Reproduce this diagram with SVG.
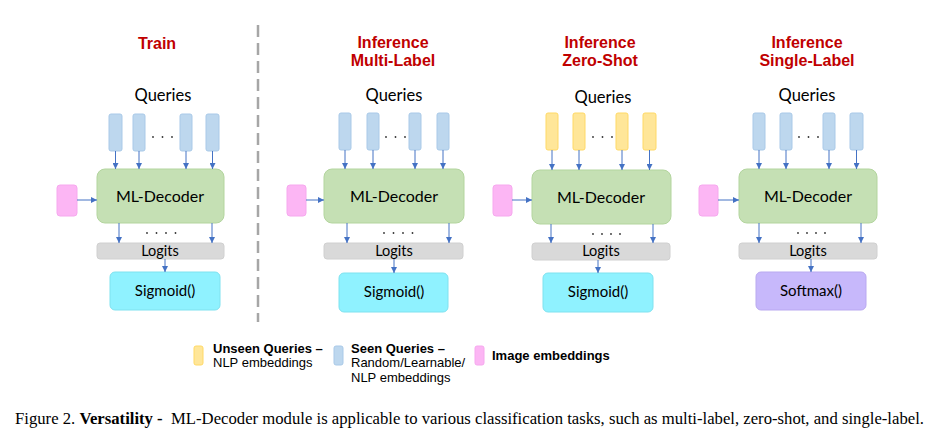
<svg xmlns="http://www.w3.org/2000/svg" width="945" height="441" viewBox="0 0 945 441">
<defs>
<marker id="ah" viewBox="0 0 6 6" refX="6" refY="3" markerWidth="6" markerHeight="6" markerUnits="userSpaceOnUse" orient="auto">
<path d="M0,0 L6,3 L0,6 z" fill="#4472c4"/>
</marker>
</defs>
<style>
.title{font-family:"Liberation Sans",Arial,sans-serif;font-weight:bold;font-size:16px;fill:#c00000;text-anchor:middle}
.q{font-family:Lato,"Open Sans",sans-serif;font-size:16.5px;fill:#000;text-anchor:middle}
.lbl{font-family:Lato,"Open Sans",sans-serif;font-size:16px;fill:#000;text-anchor:middle}
.sm{font-family:Lato,"Open Sans",sans-serif;font-size:14.5px;fill:#000;text-anchor:middle}
.out{font-family:Lato,"Open Sans",sans-serif;font-size:15px;fill:#000;text-anchor:middle}
.blue{fill:#bdd7ee;stroke:#a9c9e8;stroke-width:1}
.yel{fill:#ffe699;stroke:#ffd966;stroke-width:1}
.pink{fill:#fcb6f4;stroke:#f6a8ee;stroke-width:1}
.dec{fill:#c5e0b4;stroke:#b3d59e;stroke-width:1}
.log{fill:#d9d9d9;stroke:#d0d0d0;stroke-width:1}
.sig{fill:#8ff2ff;stroke:#7fe2ef;stroke-width:1}
.soft{fill:#c7b8fb;stroke:#b9a9f0;stroke-width:1}
.arr{stroke:#4472c4;stroke-width:1;fill:none;marker-end:url(#ah)}
.dot{fill:#333}
.leg{font-family:"Liberation Sans",Arial,sans-serif;font-size:13px;fill:#000}
.legb{font-weight:bold}
.cap{font-family:"Liberation Serif","Times New Roman",serif;font-size:16.5px;fill:#000}
</style>
<line x1="258" y1="25" x2="258" y2="322" stroke="#a6a6a6" stroke-width="2.5" stroke-dasharray="12,6"/>

<g id="panel-train">
<text class="title" x="157" y="49">Train</text>
<text class="q" x="163" y="101">Queries</text>
<g id="train-queries">
<rect class="blue" x="109" y="114" width="13" height="37" rx="2"/>
<rect class="blue" x="133" y="114" width="12" height="37" rx="2"/>
<rect class="blue" x="180" y="114" width="12" height="37" rx="2"/>
<rect class="blue" x="206" y="114" width="13" height="37" rx="2"/>
<circle class="dot" cx="153" cy="137" r="0.9"/><circle class="dot" cx="162.5" cy="137" r="0.9"/><circle class="dot" cx="172" cy="137" r="0.9"/>
</g>
<g id="train-image"><rect class="pink" x="57" y="185" width="20" height="31" rx="3"/></g>
<g id="train-decoder"><rect class="dec" x="97" y="169" width="127" height="54" rx="8"/><text class="lbl" x="160" y="202">ML-Decoder</text></g>
<circle class="dot" cx="147" cy="233" r="0.9"/><circle class="dot" cx="156.5" cy="233" r="0.9"/><circle class="dot" cx="166" cy="233" r="0.9"/><circle class="dot" cx="175.5" cy="233" r="0.9"/>
<g id="train-logits"><rect class="log" x="97" y="243" width="127" height="16" rx="3"/><text class="sm" x="160" y="256">Logits</text></g>
<g id="train-sigmoid"><rect class="sig" x="110" y="272" width="110" height="38" rx="5"/><text class="out" x="165" y="296">Sigmoid()</text></g>
</g>

<g id="panel-multilabel">
<text class="title" x="393" y="48">Inference</text>
<text class="title" x="393" y="66">Multi-Label</text>
<text class="q" x="394" y="101">Queries</text>
<g id="ml-queries">
<rect class="blue" x="339" y="113" width="12" height="37" rx="2"/>
<rect class="blue" x="367" y="113" width="12" height="37" rx="2"/>
<rect class="blue" x="409" y="113" width="12" height="37" rx="2"/>
<rect class="blue" x="437" y="113" width="12" height="37" rx="2"/>
<circle class="dot" cx="386" cy="137" r="0.9"/><circle class="dot" cx="395.5" cy="137" r="0.9"/><circle class="dot" cx="405" cy="137" r="0.9"/>
</g>
<g id="ml-image"><rect class="pink" x="287" y="185" width="19" height="31" rx="3"/></g>
<g id="ml-decoder"><rect class="dec" x="324" y="169" width="140" height="54" rx="8"/><text class="lbl" x="394" y="202">ML-Decoder</text></g>
<circle class="dot" cx="384" cy="233" r="0.9"/><circle class="dot" cx="393.5" cy="233" r="0.9"/><circle class="dot" cx="403" cy="233" r="0.9"/><circle class="dot" cx="412.5" cy="233" r="0.9"/>
<g id="ml-logits"><rect class="log" x="324" y="243" width="139" height="16" rx="3"/><text class="sm" x="394" y="256">Logits</text></g>
<g id="ml-sigmoid"><rect class="sig" x="339" y="273" width="109" height="39" rx="5"/><text class="out" x="394" y="297">Sigmoid()</text></g>
</g>

<g id="panel-zeroshot">
<text class="title" x="600" y="48">Inference</text>
<text class="title" x="600" y="66">Zero-Shot</text>
<text class="q" x="603" y="103">Queries</text>
<g id="zs-queries">
<rect class="yel" x="546" y="113" width="12" height="37" rx="2"/>
<rect class="yel" x="573" y="113" width="12" height="37" rx="2"/>
<rect class="yel" x="616" y="113" width="12" height="37" rx="2"/>
<rect class="yel" x="643" y="113" width="13" height="37" rx="2"/>
<circle class="dot" cx="593" cy="137" r="0.9"/><circle class="dot" cx="602.5" cy="137" r="0.9"/><circle class="dot" cx="612" cy="137" r="0.9"/>
</g>
<g id="zs-image"><rect class="pink" x="493" y="185" width="19" height="31" rx="3"/></g>
<g id="zs-decoder"><rect class="dec" x="532" y="170" width="139" height="54" rx="8"/><text class="lbl" x="601" y="203">ML-Decoder</text></g>
<circle class="dot" cx="593" cy="234" r="0.9"/><circle class="dot" cx="602" cy="234" r="0.9"/><circle class="dot" cx="611" cy="234" r="0.9"/><circle class="dot" cx="620" cy="234" r="0.9"/>
<g id="zs-logits"><rect class="log" x="532" y="243" width="138" height="17" rx="3"/><text class="sm" x="601" y="256">Logits</text></g>
<g id="zs-sigmoid"><rect class="sig" x="543" y="273" width="110" height="39" rx="5"/><text class="out" x="598" y="297">Sigmoid()</text></g>
</g>

<g id="panel-singlelabel">
<text class="title" x="807" y="48">Inference</text>
<text class="title" x="807" y="66">Single-Label</text>
<text class="q" x="807" y="101">Queries</text>
<g id="sl-queries">
<rect class="blue" x="753" y="113" width="12" height="37" rx="2"/>
<rect class="blue" x="780" y="113" width="12" height="37" rx="2"/>
<rect class="blue" x="823" y="113" width="12" height="37" rx="2"/>
<rect class="blue" x="850" y="113" width="13" height="37" rx="2"/>
<circle class="dot" cx="799" cy="137" r="0.9"/><circle class="dot" cx="808.5" cy="137" r="0.9"/><circle class="dot" cx="818" cy="137" r="0.9"/>
</g>
<g id="sl-image"><rect class="pink" x="699" y="185" width="19" height="31" rx="3"/></g>
<g id="sl-decoder"><rect class="dec" x="739" y="169" width="138" height="54" rx="8"/><text class="lbl" x="808" y="202">ML-Decoder</text></g>
<circle class="dot" cx="798" cy="233" r="0.9"/><circle class="dot" cx="807" cy="233" r="0.9"/><circle class="dot" cx="816" cy="233" r="0.9"/><circle class="dot" cx="825" cy="233" r="0.9"/>
<g id="sl-logits"><rect class="log" x="739" y="243" width="138" height="16" rx="3"/><text class="sm" x="808" y="256">Logits</text></g>
<g id="sl-softmax"><rect class="soft" x="756" y="272" width="110" height="38" rx="5"/><text class="out" x="811" y="296">Softmax()</text></g>
</g>

<g id="connectors">
<line class="arr" x1="115.5" y1="151" x2="115.5" y2="169"/>
<line class="arr" x1="139" y1="151" x2="139" y2="169"/>
<line class="arr" x1="186" y1="151" x2="186" y2="169"/>
<line class="arr" x1="212.5" y1="151" x2="212.5" y2="169"/>
<line class="arr" x1="77" y1="200" x2="97" y2="200"/>
<line class="arr" x1="119" y1="223" x2="119" y2="243"/>
<line class="arr" x1="212" y1="223" x2="212" y2="243"/>
<line class="arr" x1="165" y1="259" x2="165" y2="272"/>

<line class="arr" x1="345" y1="150" x2="345" y2="169"/>
<line class="arr" x1="373" y1="150" x2="373" y2="169"/>
<line class="arr" x1="415" y1="150" x2="415" y2="169"/>
<line class="arr" x1="443" y1="150" x2="443" y2="169"/>
<line class="arr" x1="306" y1="200" x2="324" y2="200"/>
<line class="arr" x1="347" y1="223" x2="347" y2="243"/>
<line class="arr" x1="449" y1="223" x2="449" y2="243"/>
<line class="arr" x1="394" y1="259" x2="394" y2="273"/>

<line class="arr" x1="552" y1="150" x2="552" y2="170"/>
<line class="arr" x1="579" y1="150" x2="579" y2="170"/>
<line class="arr" x1="622" y1="150" x2="622" y2="170"/>
<line class="arr" x1="649.5" y1="150" x2="649.5" y2="170"/>
<line class="arr" x1="512" y1="200" x2="532" y2="200"/>
<line class="arr" x1="551" y1="224" x2="551" y2="243"/>
<line class="arr" x1="653" y1="224" x2="653" y2="243"/>
<line class="arr" x1="598" y1="260" x2="598" y2="273"/>

<line class="arr" x1="759" y1="150" x2="759" y2="169"/>
<line class="arr" x1="786" y1="150" x2="786" y2="169"/>
<line class="arr" x1="829" y1="150" x2="829" y2="169"/>
<line class="arr" x1="856.5" y1="150" x2="856.5" y2="169"/>
<line class="arr" x1="718" y1="200" x2="739" y2="200"/>
<line class="arr" x1="759" y1="223" x2="759" y2="243"/>
<line class="arr" x1="861" y1="223" x2="861" y2="243"/>
<line class="arr" x1="811" y1="259" x2="811" y2="272"/>
</g>

<g id="legend">
<rect class="yel" x="194" y="346" width="9" height="19" rx="2"/>
<text class="leg" x="213" y="353"><tspan class="legb">Unseen Queries –</tspan><tspan x="213" dy="14">NLP embeddings</tspan></text>
<rect class="blue" x="334" y="346" width="9" height="19" rx="2"/>
<text class="leg" x="351" y="353"><tspan class="legb">Seen Queries –</tspan><tspan x="351" dy="14">Random/Learnable/</tspan><tspan x="351" dy="15">NLP embeddings</tspan></text>
<rect class="pink" x="475" y="346" width="9" height="19" rx="2"/>
<text class="leg legb" x="492" y="360">Image embeddings</text>
</g>

<text class="cap" x="15" y="424" textLength="909" lengthAdjust="spacingAndGlyphs" xml:space="preserve">Figure 2. <tspan font-weight="bold">Versatility -</tspan>  ML-Decoder module is applicable to various classification tasks, such as multi-label, zero-shot, and single-label.</text>
</svg>
